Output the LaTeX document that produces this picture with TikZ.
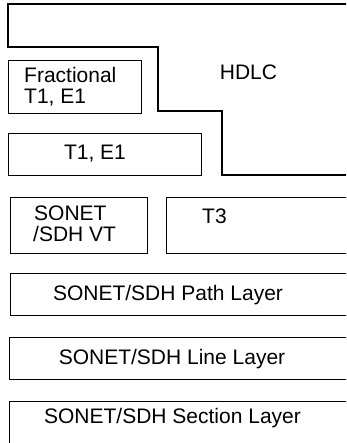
\documentclass[tikz,border=0pt]{standalone}
\usepackage{fontspec}
\setmainfont{Liberation Sans}
\begin{document}
\begin{tikzpicture}[x=1pt,y=-1pt,
  frame/.style={draw, line width=1.1pt, inner sep=0pt, anchor=north west},
  lbl/.style={inner sep=0pt, font=\fontsize{21}{21}\selectfont}]
\useasboundingbox (0,0) rectangle (346,443);
\clip (0,0) rectangle (346,443);
% HDLC outline
\coordinate (h0) at (360,4);
\coordinate (h1) at (360,175);
\draw[line width=1.1pt] (h0) -- (8,4) -- (8,47) -- (158,47) -- (158,111) -- (222,111) -- (222,175) -- (h1);
\node[lbl, anchor=base] (hdlc) at (248.5,80) {HDLC};
% boxes
\node[frame, minimum width=133pt, minimum height=53pt] (frac) at (8,60) {};
\node[lbl, anchor=base west] (fracA) at (24,83) {Fractional};
\node[lbl, anchor=base west] (fracB) at (24,104) {T1, E1};
\node[frame, minimum width=193pt, minimum height=42pt] (t1) at (8,133) {};
\node[lbl, anchor=base] (t1t) at (95,160) {T1, E1};
\node[frame, minimum width=137pt, minimum height=56pt] (vt) at (10,197) {};
\node[lbl, anchor=base west] (vtA) at (34,220) {SONET};
\node[lbl, anchor=base west] (vtB) at (33,241) {/SDH VT};
\node[frame, minimum width=200pt, minimum height=56pt] (t3) at (166,197) {};
\node[lbl, anchor=base west] (t3t) at (202,223) {T3};
\node[frame, minimum width=360pt, minimum height=42pt] (path) at (10,273) {};
\node[lbl, anchor=base] (patht) at (168,300) {SONET/SDH Path Layer};
\node[frame, minimum width=360pt, minimum height=42pt] (line) at (9,337) {};
\node[lbl, anchor=base] (linet) at (172,364) {SONET/SDH Line Layer};
\node[frame, minimum width=360pt, minimum height=60pt] (sect) at (9,401) {};
\node[lbl, anchor=base] (sectt) at (172.5,423) {SONET/SDH Section Layer};
\end{tikzpicture}
\end{document}
